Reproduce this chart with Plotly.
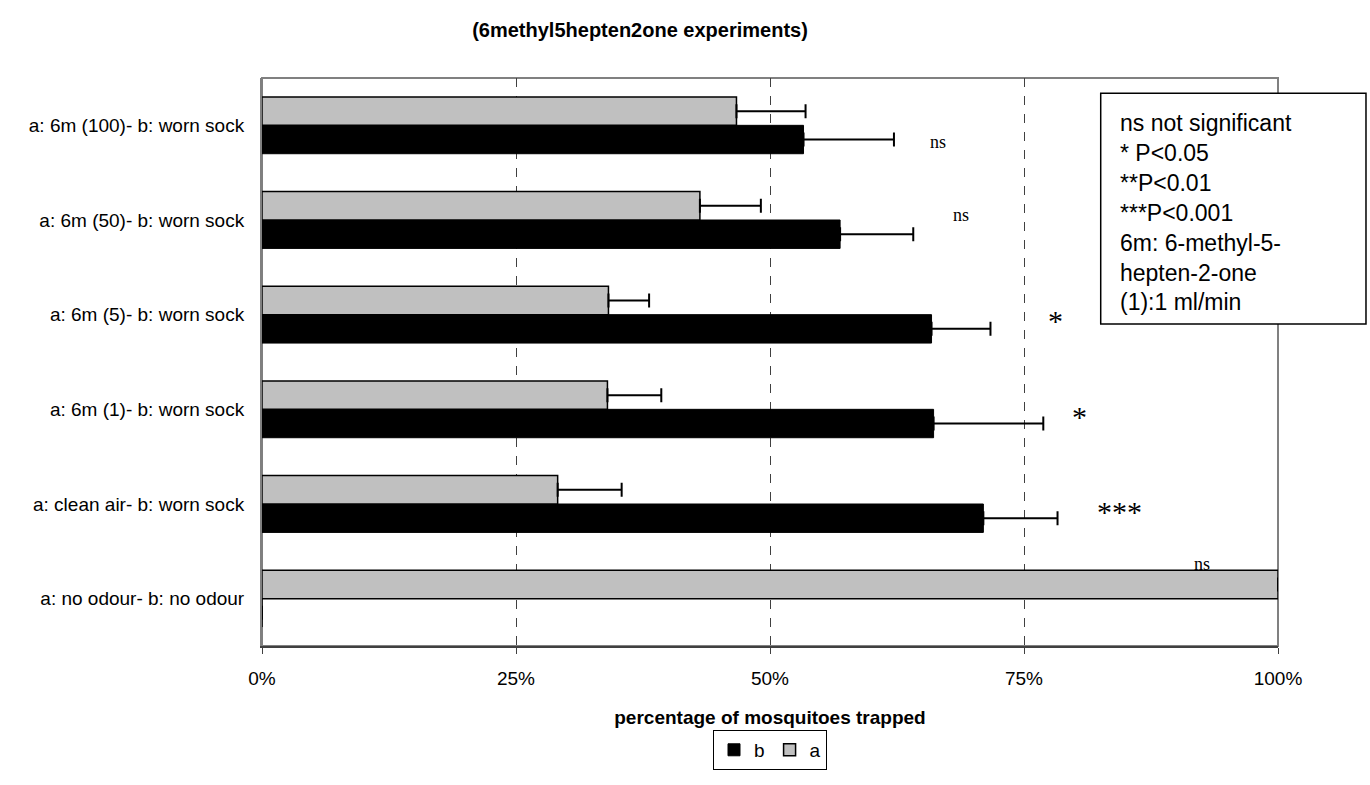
import plotly.graph_objects as go

# categories listed bottom-to-top (as on the y axis)
categories = [
    "a: no odour- b: no odour",
    "a: clean air- b: worn sock",
    "a: 6m (1)- b: worn sock",
    "a: 6m (5)- b: worn sock",
    "a: 6m (50)- b: worn sock",
    "a: 6m (100)- b: worn sock",
]
b_values = [0.0, 71.0, 66.1, 65.9, 56.9, 53.3]
b_errors = [0.0, 7.3, 10.8, 5.8, 7.2, 8.9]
a_values = [100.0, 29.1, 34.0, 34.1, 43.1, 46.7]
a_errors = [0.5, 6.3, 5.3, 4.0, 6.0, 6.8]

sig_labels = ["ns", "***", "*", "*", "ns", "ns"]
sig_x = [92.5, 84.4, 80.5, 78.1, 68.8, 66.5]
sig_y = [0.37, 0.92, 1.92, 2.94, 4.05, 4.82]

x_ticks = [0, 25, 50, 75, 100]
x_ticklabels = ["0%", "25%", "50%", "75%", "100%"]

legend_note = ("ns not significant<br>* P&lt;0.05<br>**P&lt;0.01<br>***P&lt;0.001<br>"
               "6m: 6-methyl-5-<br>hepten-2-one<br>(1):1 ml/min")

fig = go.Figure()
fig.add_trace(go.Bar(
    name="b", y=categories, x=b_values, orientation="h", cliponaxis=False,
    marker=dict(color="#000000", line=dict(color="#000000", width=1)),
    error_x=dict(type="data", array=b_errors, arrayminus=[0] * len(b_errors),
                 symmetric=False, visible=True, color="#000000",
                 thickness=2, width=7),
))
fig.add_trace(go.Bar(
    name="a", y=categories, x=a_values, orientation="h", cliponaxis=False,
    marker=dict(color="#C0C0C0", line=dict(color="#000000", width=1.5)),
    error_x=dict(type="data", array=a_errors, arrayminus=[0] * len(a_errors),
                 symmetric=False, visible=True, color="#000000",
                 thickness=2, width=7),
))

for lab, xx, yy in zip(sig_labels, sig_x, sig_y):
    star = "*" in lab
    fig.add_annotation(x=xx, y=yy, xref="x", yref="y", text=lab, showarrow=False,
                       font=dict(family="Liberation Serif", size=30 if star else 18,
                                 color="#000000"),
                       xanchor="center", yanchor="middle")

# plot border (gray)
fig.add_shape(type="rect", xref="paper", yref="paper", x0=0, x1=1, y0=0, y1=1,
              line=dict(color="#808080", width=2), layer="below")

# note box
fig.add_shape(type="rect", xref="paper", yref="paper", x0=0.8255, x1=1.0866,
              y0=0.567, y1=0.973, line=dict(color="#000000", width=1.5),
              fillcolor="#FFFFFF", layer="above")
fig.add_annotation(x=0.843, y=0.764, xref="paper", yref="paper", text=legend_note,
                   showarrow=False, align="left", xanchor="left", yanchor="middle",
                   font=dict(family="Liberation Sans, Arial", size=23, color="#000000"))

fig.update_layout(
    width=1370, height=785,
    margin=dict(l=262, r=92, t=78, b=139),
    paper_bgcolor="#FFFFFF", plot_bgcolor="#FFFFFF",
    barmode="group", bargap=0.40, bargroupgap=0,
    font=dict(family="Liberation Sans, Arial", color="#000000"),
    title=dict(text="<b>(6methyl5hepten2one experiments)</b>",
               x=640 / 1370, xref="container", xanchor="center",
               y=1 - 30 / 785, yref="container", yanchor="middle",
               font=dict(family="Liberation Sans, Arial", size=20, color="#000000")),
    xaxis=dict(range=[0, 100], tickvals=x_ticks, ticktext=x_ticklabels,
               showgrid=True, gridcolor="#404040", griddash="dash", gridwidth=1,
               showline=True, linecolor="#404040", linewidth=2,
               ticks="outside", ticklen=6, tickcolor="#404040",
               tickfont=dict(size=19), zeroline=False, ticklabelstandoff=8,
               title=dict(text="<b>percentage of mosquitoes trapped</b>",
                          font=dict(size=19), standoff=23)),
    yaxis=dict(type="category", categoryorder="array", categoryarray=categories,
               showgrid=False, showline=True, linecolor="#808080", linewidth=2,
               ticks="", tickfont=dict(size=19), ticklabelstandoff=12),
    showlegend=True,
    legend=dict(orientation="h", x=0.5, xanchor="center", y=-0.183, yanchor="middle",
                traceorder="normal", bordercolor="#000000", borderwidth=1,
                bgcolor="#FFFFFF", font=dict(size=19), itemwidth=30),
)

fig.write_html("out.html")
